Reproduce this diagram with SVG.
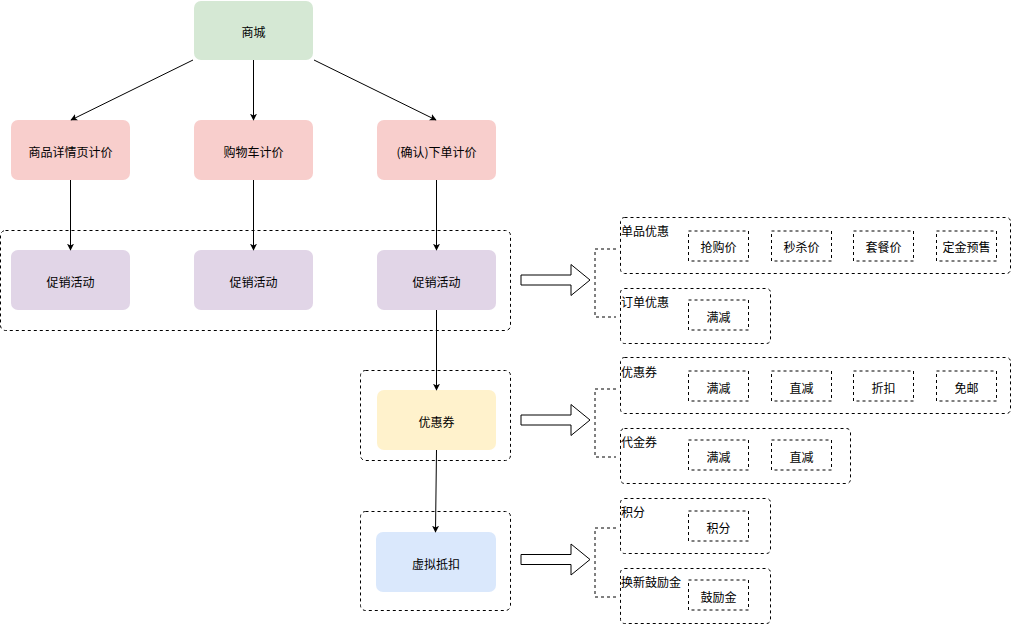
<svg xmlns="http://www.w3.org/2000/svg" width="1011" height="624" viewBox="0 0 1011 624">
<defs>
<style>
text{font-family:"Noto Sans CJK SC","Liberation Sans",sans-serif;font-size:12px;fill:#000}
.c{text-anchor:middle;dominant-baseline:central}
.grp{fill:none;stroke:#000;stroke-width:1;stroke-dasharray:3 3}
.inner{fill:none;stroke:#000;stroke-width:1;stroke-dasharray:3 3}
.br{fill:none;stroke:#000;stroke-width:1;stroke-dasharray:3 3}
.edge{fill:none;stroke:#000;stroke-width:1;marker-end:url(#ah)}
.big{fill:#fff;stroke:#000;stroke-width:1}
</style>
<marker id="ah" viewBox="0 0 10 10" refX="9" refY="5" markerWidth="7" markerHeight="7" orient="auto" markerUnits="userSpaceOnUse">
<path d="M0,0 L10,5 L0,10 L2.5,5 Z" fill="#000"/>
</marker>
</defs>
<rect width="1011" height="624" fill="#fff"/>

<g id="containers">
<rect class="grp" x="0.5" y="230.5" width="510" height="100" rx="5"/>
<rect class="grp" x="360.5" y="370.5" width="150" height="90" rx="5"/>
<rect class="grp" x="360.5" y="511.5" width="150" height="99" rx="5"/>
</g>

<g id="n-mall"><rect x="194" y="1" width="119" height="59" rx="7" fill="#d5e8d4"/><text class="c" x="253.5" y="31">商城</text></g>
<g id="n-detail"><rect x="11" y="120" width="119" height="60" rx="7" fill="#f8cecc"/><text class="c" x="70.5" y="151">商品详情页计价</text></g>
<g id="n-cart"><rect x="194" y="120" width="119" height="60" rx="7" fill="#f8cecc"/><text class="c" x="253.5" y="151">购物车计价</text></g>
<g id="n-order"><rect x="377" y="120" width="119" height="60" rx="7" fill="#f8cecc"/><text class="c" x="436.5" y="151">(确认)下单计价</text></g>
<g id="n-promo1"><rect x="11" y="250" width="119" height="60" rx="7" fill="#e1d5e7"/><text class="c" x="70.5" y="281">促销活动</text></g>
<g id="n-promo2"><rect x="194" y="250" width="119" height="60" rx="7" fill="#e1d5e7"/><text class="c" x="253.5" y="281">促销活动</text></g>
<g id="n-promo3"><rect x="377" y="250" width="119" height="60" rx="7" fill="#e1d5e7"/><text class="c" x="436.5" y="281">促销活动</text></g>
<g id="n-coupon"><rect x="377" y="390" width="119" height="60" rx="7" fill="#fff2cc"/><text class="c" x="436.5" y="421">优惠券</text></g>
<g id="n-virtual"><rect x="376" y="532" width="120" height="60" rx="7" fill="#dae8fc"/><text class="c" x="436" y="563">虚拟抵扣</text></g>

<g id="connectors">
<line class="edge" x1="193" y1="60" x2="71" y2="120"/>
<line class="edge" x1="253.5" y1="60" x2="253.5" y2="120"/>
<line class="edge" x1="314" y1="60" x2="436" y2="120"/>
<line class="edge" x1="70.5" y1="180" x2="70.5" y2="250"/>
<line class="edge" x1="253.5" y1="180" x2="253.5" y2="250"/>
<line class="edge" x1="436.5" y1="180" x2="436.5" y2="250"/>
<line class="edge" x1="436.5" y1="310" x2="436.5" y2="390"/>
<line class="edge" x1="436.5" y1="450" x2="435.5" y2="532"/>
<polygon class="big" points="521,275 571,275 571,264.5 590,280 571,295.5 571,285 521,285"/>
<polygon class="big" points="521,415 571,415 571,404.5 590,420 571,435.5 571,425 521,425"/>
<polygon class="big" points="521,554.5 571,554.5 571,544 590,559.5 571,575 571,564.5 521,564.5"/>
<path class="br" d="M616,249 H595 V317 H616"/>
<path class="br" d="M616,389 H595 V457 H616"/>
<path class="br" d="M616,528 H595 V597 H616"/>
</g>

<g id="g-single">
<rect class="grp" x="620.5" y="217.5" width="390" height="56" rx="4"/>
<text x="621" y="236">单品优惠</text>
<rect class="inner" x="688.5" y="231" width="60" height="30"/><text class="c" x="718.5" y="246">抢购价</text>
<rect class="inner" x="771.5" y="231" width="60" height="30"/><text class="c" x="801.5" y="246">秒杀价</text>
<rect class="inner" x="853.5" y="231" width="60" height="30"/><text class="c" x="883.5" y="246">套餐价</text>
<rect class="inner" x="936.5" y="231" width="60" height="30"/><text class="c" x="966.5" y="246">定金预售</text>
</g>
<g id="g-orderdisc">
<rect class="grp" x="620.5" y="288.5" width="150" height="55" rx="4"/>
<text x="621" y="307">订单优惠</text>
<rect class="inner" x="688.5" y="300" width="60" height="30"/><text class="c" x="718.5" y="316">满减</text>
</g>
<g id="g-coupon">
<rect class="grp" x="620.5" y="357.5" width="390" height="56" rx="4"/>
<text x="621" y="377">优惠券</text>
<rect class="inner" x="688.5" y="371" width="60" height="30"/><text class="c" x="718.5" y="387">满减</text>
<rect class="inner" x="771.5" y="371" width="60" height="30"/><text class="c" x="801.5" y="387">直减</text>
<rect class="inner" x="853.5" y="371" width="60" height="30"/><text class="c" x="883.5" y="387">折扣</text>
<rect class="inner" x="936.5" y="371" width="60" height="30"/><text class="c" x="966.5" y="387">免邮</text>
</g>
<g id="g-voucher">
<rect class="grp" x="620.5" y="428.5" width="230" height="55" rx="4"/>
<text x="621" y="447">代金券</text>
<rect class="inner" x="688.5" y="440" width="60" height="30"/><text class="c" x="718.5" y="456">满减</text>
<rect class="inner" x="771.5" y="440" width="60" height="30"/><text class="c" x="801.5" y="456">直减</text>
</g>
<g id="g-points">
<rect class="grp" x="620.5" y="498.5" width="150" height="55" rx="4"/>
<text x="621" y="517">积分</text>
<rect class="inner" x="688.5" y="511" width="60" height="30"/><text class="c" x="718.5" y="527">积分</text>
</g>
<g id="g-reward">
<rect class="grp" x="620.5" y="568.5" width="150" height="55" rx="4"/>
<text x="621" y="587">换新鼓励金</text>
<rect class="inner" x="688.5" y="580" width="60" height="30"/><text class="c" x="718.5" y="596">鼓励金</text>
</g>
</svg>
